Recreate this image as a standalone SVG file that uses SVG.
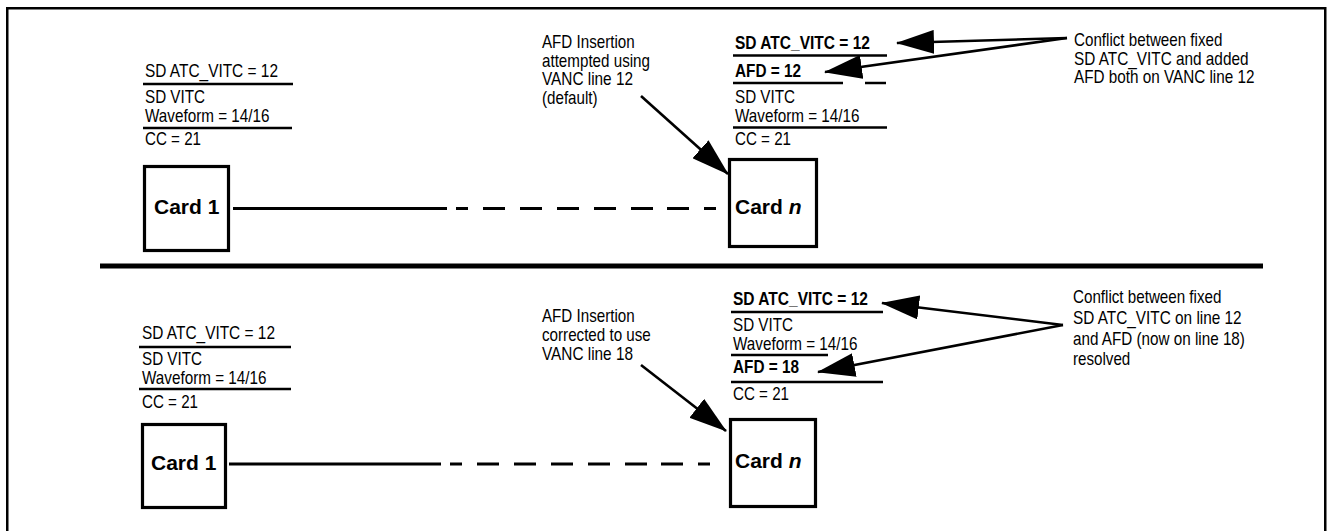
<svg xmlns="http://www.w3.org/2000/svg" width="1327" height="531" viewBox="0 0 1327 531">
<style>
.t{font-family:"Liberation Sans Narrow","Arial Narrow","Liberation Sans",Arial,sans-serif;font-size:18.5px;fill:#000}
.b{font-weight:bold}
.card{font-family:"Liberation Sans",Arial,sans-serif;font-size:21px;font-weight:bold;fill:#000}
.box{fill:#fff;stroke:#000;stroke-width:3.2}
.rule{stroke:#000;stroke-width:2.5;fill:none}
.conn{stroke:#000;stroke-width:3;fill:none}
.arr{stroke:#000;stroke-width:2.6;fill:none;marker-end:url(#ah)}
</style>
<defs>
<marker id="ah" markerUnits="userSpaceOnUse" markerWidth="38" markerHeight="24" viewBox="0 0 38 24" refX="37" refY="12" orient="auto">
<path d="M0,0 L38,12 L0,24 z" fill="#000"/>
</marker>
</defs>
<rect x="7.25" y="8.25" width="1318" height="560" fill="none" stroke="#000" stroke-width="2.5"/>
<line x1="100" y1="266" x2="1263" y2="266" stroke="#000" stroke-width="5"/>

<!-- Top panel -->
<g id="top-card1-stack">
<text class="t" x="145" y="77" textLength="133" lengthAdjust="spacingAndGlyphs">SD ATC_VITC = 12</text>
<line class="rule" x1="143" y1="84" x2="293" y2="84"/>
<text class="t" x="145" y="103" textLength="60" lengthAdjust="spacingAndGlyphs">SD VITC</text>
<text class="t" x="145" y="122" textLength="124.5" lengthAdjust="spacingAndGlyphs">Waveform = 14/16</text>
<line class="rule" x1="143" y1="128" x2="292" y2="128"/>
<text class="t" x="145" y="145" textLength="56" lengthAdjust="spacingAndGlyphs">CC = 21</text>
</g>
<g id="top-card1">
<rect class="box" x="144.5" y="166.5" width="84" height="84"/>
<text class="card" x="154" y="214">Card 1</text>
</g>
<g id="top-annotation">
<text class="t" x="542" y="48" textLength="92.7" lengthAdjust="spacingAndGlyphs">AFD Insertion</text>
<text class="t" x="542" y="66.5" textLength="108" lengthAdjust="spacingAndGlyphs">attempted using</text>
<text class="t" x="542" y="85" textLength="91" lengthAdjust="spacingAndGlyphs">VANC line 12</text>
<text class="t" x="542" y="103.5" textLength="55.6" lengthAdjust="spacingAndGlyphs">(default)</text>
</g>
<g id="top-cardn-stack">
<text class="t b" x="735" y="49" textLength="135" lengthAdjust="spacingAndGlyphs">SD ATC_VITC = 12</text>
<line class="rule" x1="733" y1="55.5" x2="887" y2="55.5"/>
<text class="t b" x="735" y="77" textLength="66" lengthAdjust="spacingAndGlyphs">AFD = 12</text>
<line class="rule" x1="733" y1="83" x2="843" y2="83"/>
<line class="rule" x1="865" y1="83" x2="886" y2="83"/>
<text class="t" x="735" y="103" textLength="60" lengthAdjust="spacingAndGlyphs">SD VITC</text>
<text class="t" x="735" y="122" textLength="124.5" lengthAdjust="spacingAndGlyphs">Waveform = 14/16</text>
<line class="rule" x1="733" y1="127.5" x2="887" y2="127.5"/>
<text class="t" x="735" y="145" textLength="56" lengthAdjust="spacingAndGlyphs">CC = 21</text>
</g>
<g id="top-cardn">
<rect class="box" x="729.5" y="159.5" width="87" height="87"/>
<text class="card" x="735" y="214">Card <tspan font-style="italic">n</tspan></text>
</g>
<g id="top-conflict">
<text class="t" x="1074" y="46" textLength="148.4" lengthAdjust="spacingAndGlyphs">Conflict between fixed</text>
<text class="t" x="1074" y="64.5" textLength="174.5" lengthAdjust="spacingAndGlyphs">SD ATC_VITC and added</text>
<text class="t" x="1074" y="83" textLength="180.4" lengthAdjust="spacingAndGlyphs">AFD both on VANC line 12</text>
</g>

<!-- Bottom panel -->
<g id="bot-card1-stack">
<text class="t" x="142" y="339" textLength="133" lengthAdjust="spacingAndGlyphs">SD ATC_VITC = 12</text>
<line class="rule" x1="139" y1="347" x2="291" y2="347"/>
<text class="t" x="142" y="365" textLength="60" lengthAdjust="spacingAndGlyphs">SD VITC</text>
<text class="t" x="142" y="384" textLength="124.5" lengthAdjust="spacingAndGlyphs">Waveform = 14/16</text>
<line class="rule" x1="139" y1="389" x2="291" y2="389"/>
<text class="t" x="142" y="408" textLength="56" lengthAdjust="spacingAndGlyphs">CC = 21</text>
</g>
<g id="bot-card1">
<rect class="box" x="142.5" y="424.5" width="83" height="83"/>
<text class="card" x="151" y="470">Card 1</text>
</g>
<g id="bot-annotation">
<text class="t" x="542" y="322" textLength="92.7" lengthAdjust="spacingAndGlyphs">AFD Insertion</text>
<text class="t" x="542" y="341" textLength="108.8" lengthAdjust="spacingAndGlyphs">corrected to use</text>
<text class="t" x="542" y="360" textLength="91" lengthAdjust="spacingAndGlyphs">VANC line 18</text>
</g>
<g id="bot-cardn-stack">
<text class="t b" x="733" y="305" textLength="135" lengthAdjust="spacingAndGlyphs">SD ATC_VITC = 12</text>
<line class="rule" x1="731" y1="312" x2="883" y2="312"/>
<text class="t" x="733" y="331" textLength="60" lengthAdjust="spacingAndGlyphs">SD VITC</text>
<text class="t" x="733" y="350" textLength="124.5" lengthAdjust="spacingAndGlyphs">Waveform = 14/16</text>
<line class="rule" x1="731" y1="355" x2="828" y2="355"/>
<text class="t b" x="733" y="373" textLength="66" lengthAdjust="spacingAndGlyphs">AFD = 18</text>
<line class="rule" x1="731" y1="382" x2="883" y2="382"/>
<text class="t" x="733" y="400" textLength="56" lengthAdjust="spacingAndGlyphs">CC = 21</text>
</g>
<g id="bot-cardn">
<rect class="box" x="730.5" y="419.5" width="85" height="87"/>
<text class="card" x="735" y="468">Card <tspan font-style="italic">n</tspan></text>
</g>
<g id="bot-conflict">
<text class="t" x="1073" y="303" textLength="148.4" lengthAdjust="spacingAndGlyphs">Conflict between fixed</text>
<text class="t" x="1073" y="324" textLength="168.6" lengthAdjust="spacingAndGlyphs">SD ATC_VITC on line 12</text>
<text class="t" x="1073" y="345" textLength="171.9" lengthAdjust="spacingAndGlyphs">and AFD (now on line 18)</text>
<text class="t" x="1073" y="365" textLength="57.3" lengthAdjust="spacingAndGlyphs">resolved</text>
</g>

<g id="connectors">
<path class="conn" d="M233 208.5 H447 M456 208.5 H468 M483 208.5 H505 M520 208.5 H542 M557 208.5 H579 M594 208.5 H616 M631 208.5 H653 M667 208.5 H689 M704 208.5 H716"/>
<path class="conn" d="M229 464 H441 M450 464 H462 M477 464 H499 M514 464 H536 M551 464 H573 M588 464 H610 M625 464 H647 M661 464 H683 M698 464 H710"/>
<path class="arr" d="M641 96 L728 174"/>
<path class="arr" d="M1067 38 L897 43"/>
<path class="arr" d="M1067 38 L825 72"/>
<path class="arr" d="M641 365 L726 431"/>
<path class="arr" d="M1063 325 L882 303"/>
<path class="arr" d="M1063 325 L818 372"/>
</g>
</svg>
